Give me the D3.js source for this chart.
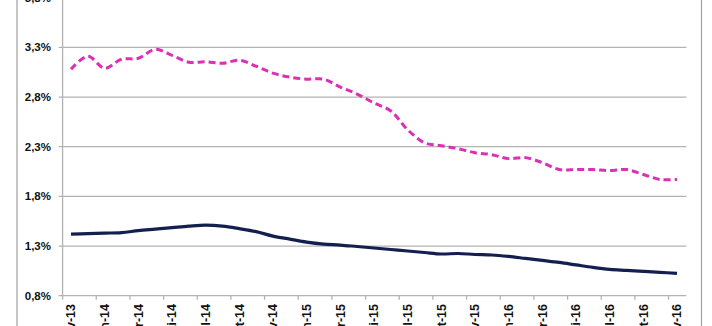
<!DOCTYPE html>
<html>
<head>
<meta charset="utf-8">
<script src="https://cdn.jsdelivr.net/npm/d3@7"></script>
<style>
html,body{margin:0;padding:0;background:#fff;overflow:hidden}
svg{display:block}
text{font-family:"Liberation Sans",Arial,sans-serif;font-weight:bold;fill:#111}
</style>
</head>
<body>
<svg id="c" width="712" height="326"></svg>
<script>
const months = ["nov-13","dez-13","jan-14","fev-14","mar-14","abr-14","mai-14","jun-14","jul-14","ago-14","set-14","out-14",
  "nov-14","dez-14","jan-15","fev-15","mar-15","abr-15","mai-15","jun-15","jul-15","ago-15","set-15","out-15",
  "nov-15","dez-15","jan-16","fev-16","mar-16","abr-16","mai-16","jun-16","jul-16","ago-16","set-16","out-16","nov-16"];
const seriesPink = [3.08,3.21,3.09,3.18,3.19,3.28,3.22,3.15,3.155,3.14,3.17,3.11,
  3.04,3.00,2.98,2.98,2.90,2.83,2.74,2.66,2.47,2.34,2.31,2.28,
  2.24,2.22,2.18,2.19,2.14,2.07,2.07,2.07,2.06,2.07,2.02,1.97,1.97];
const seriesNavy = [1.42,1.425,1.43,1.435,1.455,1.47,1.485,1.50,1.51,1.50,1.475,1.445,
  1.40,1.37,1.34,1.32,1.31,1.295,1.28,1.265,1.25,1.235,1.22,1.225,
  1.215,1.21,1.195,1.175,1.155,1.135,1.11,1.085,1.065,1.055,1.045,1.035,1.025];
const yTicks = [0.8,1.3,1.8,2.3,2.8,3.3,3.8];
const yTickLabels = ["0,8%","1,3%","1,8%","2,3%","2,8%","3,3%","3,8%"];
const xTickLabels = ["nov-13","jan-14","mar-14","mai-14","jul-14","set-14","nov-14","jan-15","mar-15","mai-15","jul-15","set-15","nov-15","jan-16","mar-16","mai-16","jul-16","set-16","nov-16"];

(function(){
const svg = d3.select("#c");
const pLeft = 62.6, pRight = 685.4, pTop = -2.3, pBottom = 295.7;
const x = d3.scaleBand().domain(months).range([pLeft, pRight]);
const y = d3.scaleLinear().domain([0.8, 3.8]).range([pBottom, pTop]);
const grid = "#b3b3b3";

// outer chart border
svg.append("line").attr("x1",17).attr("x2",17).attr("y1",-5).attr("y2",330).attr("stroke","#a0a0a0").attr("stroke-width",1.2);
svg.append("line").attr("x1",701.5).attr("x2",701.5).attr("y1",-5).attr("y2",330).attr("stroke","#a0a0a0").attr("stroke-width",1.2);

// gridlines
svg.append("g").selectAll("line").data(yTicks).join("line")
  .attr("x1", pLeft-4).attr("x2", pRight+1)
  .attr("y1", d=>y(d)).attr("y2", d=>y(d))
  .attr("stroke", grid).attr("stroke-width",1.3);

// y axis line
svg.append("line").attr("x1",pLeft).attr("x2",pLeft).attr("y1",-5).attr("y2",pBottom)
  .attr("stroke",grid).attr("stroke-width",1.3);

// y labels
svg.append("g").selectAll("text").data(yTicks).join("text")
  .attr("x", 51).attr("y", d=>y(d)).attr("dy","0.35em")
  .attr("text-anchor","end").attr("font-size",11.5)
  .text((d,i)=>yTickLabels[i]);

// x ticks every 2 categories
const tickIdx = d3.range(0, months.length, 2);
svg.append("g").selectAll("line").data(tickIdx).join("line")
  .attr("x1", i=>x(months[i])).attr("x2", i=>x(months[i]))
  .attr("y1", pBottom).attr("y2", pBottom+4)
  .attr("stroke", grid).attr("stroke-width",1.3);

// x labels
svg.append("g").selectAll("text").data(xTickLabels).join("text")
  .attr("transform", d=>`translate(${x(d)+x.bandwidth()/2},304) rotate(-90)`)
  .attr("dy","0.35em").attr("text-anchor","end").attr("font-size",12.5)
  .text(d=>d);

const line = d3.line().x((d,i)=>x(months[i])+x.bandwidth()/2).y(d=>y(d)).curve(d3.curveCatmullRom.alpha(0.5));

svg.append("path").datum(seriesPink).attr("d",line)
  .attr("fill","none").attr("stroke","#d930b4").attr("stroke-width",3)
  .attr("stroke-dasharray","7,4");
svg.append("path").datum(seriesNavy).attr("d",line)
  .attr("fill","none").attr("stroke","#13204f").attr("stroke-width",3.2);
})();
</script>
</body>
</html>
